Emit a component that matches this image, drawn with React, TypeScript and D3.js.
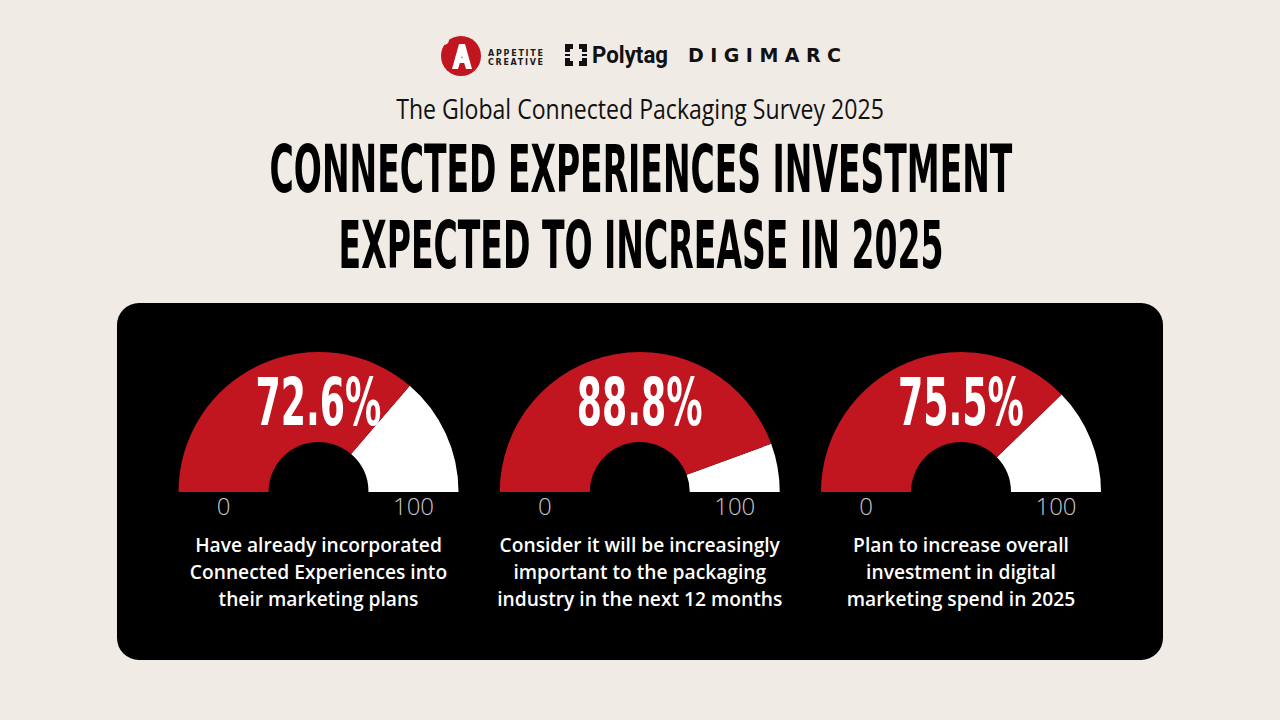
import { useEffect, useRef } from "react";
import { select, arc, scaleLinear, scalePoint } from "d3";

const values = [72.6, 88.8, 75.5];
const tickLabels = ["0", "100"];
const captions = [
  ["Have already incorporated", "Connected Experiences into", "their marketing plans"],
  ["Consider it will be increasingly", "important to the packaging", "industry in the next 12 months"],
  ["Plan to increase overall", "investment in digital", "marketing spend in 2025"],
];
const subtitle = "The Global Connected Packaging Survey 2025";
const titleLines = ["CONNECTED EXPERIENCES INVESTMENT", "EXPECTED TO INCREASE IN 2025"];

const RED = "#C1151F";
const BG = "#F0EBE5";
const CONDENSED = "'Liberation Sans Narrow', 'DejaVu Sans Condensed', Roboto, sans-serif";
const BODY = "'Open Sans', 'Noto Sans', sans-serif";

// squeeze a centred text horizontally to a target width, keeping its centre
const fitWidth = (node: SVGTextElement, cx: number, width: number) => {
  const natural = node.getComputedTextLength();
  if (natural > 0) {
    const k = width / natural;
    select(node)
      .attr("x", 0)
      .attr("transform", `translate(${cx},0) scale(${k},1)`);
  }
};

const draw = (ref: HTMLDivElement, size = { w: 1280, h: 720 }) => {
  const canvas = select(ref);
  canvas.selectAll("svg").remove();

  const svg = canvas
    .append("svg")
    .attr("width", size.w)
    .attr("height", size.h)
    .style("position", "absolute")
    .style("left", 0)
    .style("top", 0);

  svg.append("rect").attr("width", size.w).attr("height", size.h).attr("fill", BG);

  // logos
  const logos = svg.append("g");
  logos.append("circle").attr("cx", 461).attr("cy", 56).attr("r", 20).attr("fill", RED);
  logos.append("circle").attr("cx", 444).attr("cy", 40).attr("r", 5).attr("fill", BG);
  logos
    .append("path")
    .attr("d", "M452,69 L459,44 L465,44 L472,69 L466,69 L462,56 L458,69 Z")
    .attr("fill", "white");
  logos
    .append("path")
    .attr("d", "M455,63 L469,63 L467,58 L457,58 Z")
    .attr("fill", "white");
  ["APPETITE", "CREATIVE"].forEach((t, i) =>
    logos
      .append("text")
      .attr("x", 488)
      .attr("y", 56 + i * 9)
      .attr("font-family", "'DejaVu Sans', sans-serif")
      .attr("font-size", 8)
      .attr("font-weight", 700)
      .attr("textLength", 55)
      .attr("lengthAdjust", "spacing")
      .attr("fill", "#1a1a1a")
      .text(t)
  );
  // polytag bracket icon
  const ix = 565, iy = 44, s = 22, t = 5, g = 8;
  logos
    .append("path")
    .attr(
      "d",
      [
        `M${ix},${iy} h${g} v${t} h${-(g - t)} v${g - t} h${-t} Z`,
        `M${ix + s},${iy} h${-g} v${t} h${g - t} v${g - t} h${t} Z`,
        `M${ix},${iy + s} h${g} v${-t} h${-(g - t)} v${-(g - t)} h${-t} Z`,
        `M${ix + s},${iy + s} h${-g} v${-t} h${g - t} v${-(g - t)} h${t} Z`,
        `M${ix},${iy + g + 2} h${t} v${s - 2 * g - 4} h${-t} Z`,
        `M${ix + s - t},${iy + g + 2} h${t} v${s - 2 * g - 4} h${-t} Z`,
      ].join(" ")
    )
    .attr("fill", "#111");
  logos
    .append("text")
    .attr("x", 592)
    .attr("y", 63)
    .attr("font-family", "Roboto, sans-serif")
    .attr("font-size", 23)
    .attr("font-weight", 700)
    .attr("textLength", 76)
    .attr("lengthAdjust", "spacingAndGlyphs")
    .attr("fill", "#111")
    .text("Polytag");
  logos
    .append("text")
    .attr("x", 688)
    .attr("y", 62)
    .attr("font-family", "'DejaVu Sans', sans-serif")
    .attr("font-size", 19)
    .attr("font-weight", 700)
    .attr("textLength", 153)
    .attr("lengthAdjust", "spacing")
    .attr("fill", "#111")
    .text("DIGIMARC");

  // headings
  svg
    .append("text")
    .attr("y", 119)
    .attr("text-anchor", "middle")
    .attr("font-family", "'Open Sans', sans-serif")
    .attr("font-weight", 400)
    .attr("font-size", 28)
    .attr("fill", "#111")
    .text(subtitle)
    .each(function () {
      fitWidth(this as SVGTextElement, 640, 488);
    });

  const titleWidths = [743, 605];
  titleLines.forEach((line, i) =>
    svg
      .append("text")
      .attr("y", 192 + i * 76)
      .attr("text-anchor", "middle")
      .attr("font-family", CONDENSED)
      .attr("font-weight", 700)
      .attr("font-size", 65)
      .attr("fill", "#000")
      .text(line)
      .each(function () {
        fitWidth(this as SVGTextElement, 641, titleWidths[i]);
      })
  );

  // panel
  svg
    .append("rect")
    .attr("x", 117)
    .attr("y", 303)
    .attr("width", 1046)
    .attr("height", 357)
    .attr("rx", 22)
    .attr("fill", "#000");

  const cx = scalePoint<number>().domain(values.map((_, i) => i)).range([318.5, 961]);
  const angle = scaleLinear().domain([0, 100]).range([-Math.PI / 2, Math.PI / 2]);
  const baseY = 492;
  const rIn = 50, rOut = 140;
  const gaugeArc = arc<any>().innerRadius(rIn).outerRadius(rOut);

  const gauges = svg
    .selectAll("g.gauge")
    .data(values)
    .join("g")
    .attr("class", "gauge")
    .attr("transform", (_, i) => `translate(${cx(i)},${baseY})`);

  gauges
    .append("path")
    .attr("d", (v) => gaugeArc({ startAngle: angle(v), endAngle: angle(100) }))
    .attr("fill", "white");
  gauges
    .append("path")
    .attr("d", (v) => gaugeArc({ startAngle: angle(0), endAngle: angle(v) }))
    .attr("fill", RED);

  gauges
    .append("text")
    .attr("y", -67)
    .attr("text-anchor", "middle")
    .attr("font-family", CONDENSED)
    .attr("font-weight", 700)
    .attr("font-size", 65)
    .attr("fill", "white")
    .text((v) => `${v.toFixed(1)}%`)
    .each(function () {
      fitWidth(this as SVGTextElement, 0, 126);
    });

  gauges
    .selectAll("text.tick")
    .data(tickLabels)
    .join("text")
    .attr("class", "tick")
    .attr("x", (d) => (Number(d) === 0 ? -1 : 1) * ((rIn + rOut) / 2))
    .attr("y", 23)
    .attr("text-anchor", "middle")
    .attr("font-family", "'Open Sans', sans-serif")
    .attr("font-weight", 300)
    .attr("font-size", 24)
    .attr("fill", "#c8c8c8")
    .text((d) => d);

  gauges
    .selectAll("text.cap")
    .data((_, i) => captions[i])
    .join("text")
    .attr("class", "cap")
    .attr("x", 0)
    .attr("y", (_, j) => 60 + j * 27)
    .attr("text-anchor", "middle")
    .attr("font-family", BODY)
    .attr("font-weight", 600)
    .attr("font-size", 19.2)
    .attr("fill", "white")
    .text((d) => d);
};

export default function App() {
  const ref = useRef<HTMLDivElement>(null);

  useEffect(() => {
    if (ref.current) draw(ref.current);
  }, []);

  return <div ref={ref} style={{ width: 1280, height: 720 }}></div>;
}
